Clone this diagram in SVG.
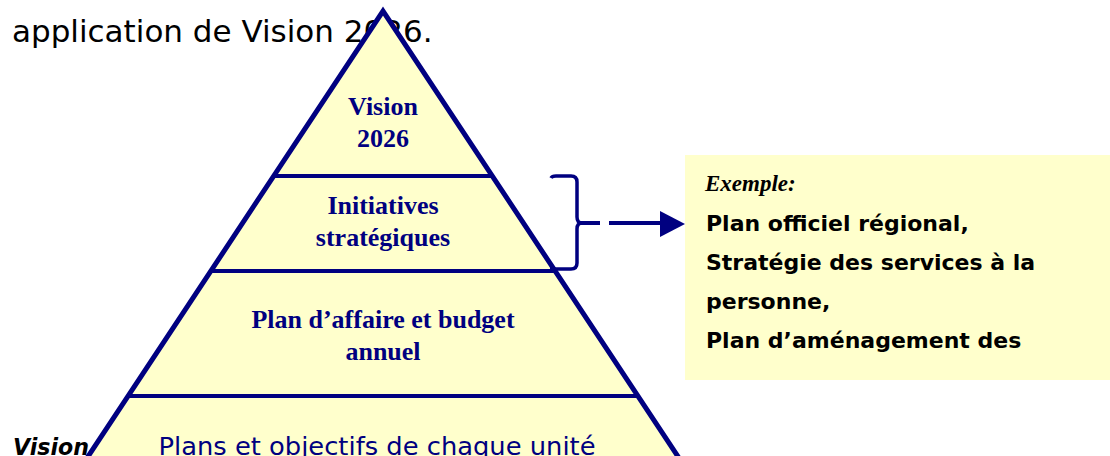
<svg xmlns="http://www.w3.org/2000/svg" width="1110" height="456" viewBox="0 0 1110 456">
  <defs>
    <style>
      .tier { fill: #FFFFCC; stroke: none; }
      .divider { stroke: #000080; stroke-width: 4; fill: none; }
      .outline { stroke: #000080; stroke-width: 5; fill: none; stroke-linejoin: miter; }
      .lbl { font-family: "Liberation Serif", "Times New Roman", serif; font-weight: bold; font-size: 26px; fill: #000080; text-anchor: middle; }
      .title { font-family: "DejaVu Sans", Verdana, sans-serif; font-size: 31px; fill: #000000; }
      .ex { font-family: "DejaVu Sans", Verdana, sans-serif; font-weight: bold; font-size: 22px; fill: #000000; }
      .conn { stroke: #000080; fill: none; stroke-linecap: butt; }
    </style>
  </defs>

  <rect width="1110" height="456" fill="#FFFFFF"/>

  <g id="title">
    <text class="title" x="12" y="42">application de Vision 2026.</text>
  </g>

  <g id="vision-side-label">
    <text x="13" y="455" font-family="DejaVu Sans, Verdana, sans-serif" font-size="23" font-weight="bold" font-style="italic" fill="#000000" textLength="76" lengthAdjust="spacingAndGlyphs">Vision</text>
  </g>

  <g id="example-box">
    <rect x="685" y="155" width="430" height="225" fill="#FFFFCC"/>
    <text x="705" y="191" font-family="Liberation Serif, Times New Roman, serif" font-size="23" font-weight="bold" font-style="italic" fill="#000000">Exemple:</text>
    <text class="ex" x="706" y="231">Plan officiel régional,</text>
    <text class="ex" x="706" y="270">Stratégie des services à la</text>
    <text class="ex" x="706" y="309">personne,</text>
    <text class="ex" x="706" y="348">Plan d’aménagement des</text>
  </g>

  <g id="pyramid">
    <g id="tier-vision">
      <polygon class="tier" points="383,11 492.2,176 273.8,176"/>
      <text class="lbl" x="383" y="115">Vision</text>
      <text class="lbl" x="383" y="147">2026</text>
    </g>
    <g id="tier-initiatives">
      <polygon class="tier" points="273.8,176 492.2,176 555.1,271 210.9,271"/>
      <text class="lbl" x="383" y="214">Initiatives</text>
      <text class="lbl" x="383" y="246">stratégiques</text>
    </g>
    <g id="tier-plan-affaire">
      <polygon class="tier" points="210.9,271 555.1,271 637.9,396 128.1,396"/>
      <text class="lbl" x="383" y="328">Plan d’affaire et budget</text>
      <text class="lbl" x="383" y="360">annuel</text>
    </g>
    <g id="tier-plans-unites">
      <polygon class="tier" points="128.1,396 637.9,396 686.9,470 79.1,470"/>
      <text x="377" y="455" text-anchor="middle" font-family="DejaVu Sans, Verdana, sans-serif" font-size="25" fill="#000080" textLength="437" lengthAdjust="spacingAndGlyphs">Plans et objectifs de chaque unité</text>
    </g>
    <line class="divider" x1="273.8" y1="176" x2="492.2" y2="176"/>
    <line class="divider" x1="210.9" y1="271" x2="555.1" y2="271"/>
    <line class="divider" x1="128.1" y1="396" x2="637.9" y2="396"/>
    <path class="outline" d="M79.1,470 L383,11 L686.9,470"/>
  </g>

  <g id="connectors">
    <path class="conn" stroke-width="3.5" d="M551,178 Q552,176 556,176 L571,176 Q577,176 577,182 L577,217 Q577,223 582,223 M582,223 Q577,223 577,229 L577,263 Q577,269 571,269 L550,269"/>
    <line class="conn" stroke-width="4" x1="580" y1="223" x2="600" y2="223"/>
    <line class="conn" stroke-width="4" x1="609" y1="223" x2="662" y2="223"/>
    <polygon points="660,211 685,224 660,237" fill="#000080"/>
  </g>
</svg>
